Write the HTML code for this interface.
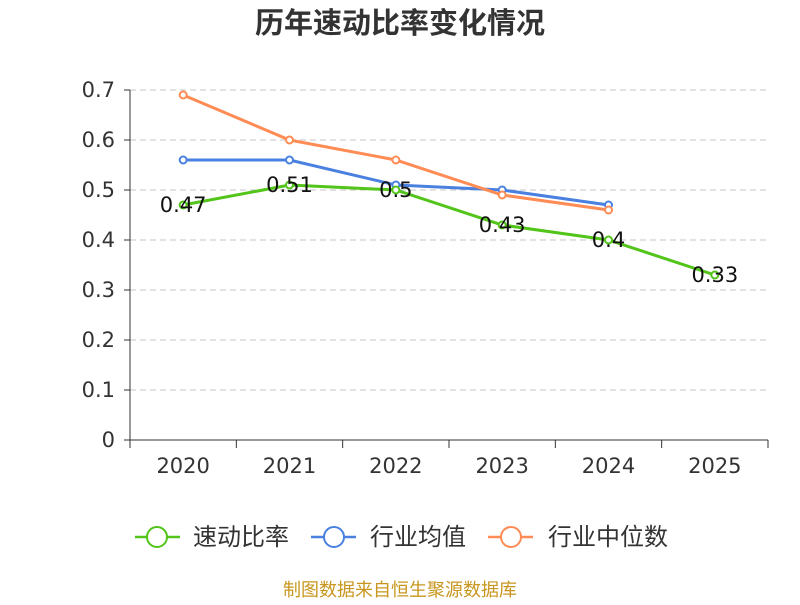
<!DOCTYPE html>
<html><head><meta charset="utf-8"><style>
body{margin:0;background:#fff;}
svg text{font-family:"DejaVu Sans","Noto Sans CJK SC",sans-serif;}
</style></head><body>
<svg width="800" height="600" xmlns="http://www.w3.org/2000/svg">
<text x="400" y="33" text-anchor="middle" font-size="29" font-weight="bold" fill="#333">历年速动比率变化情况</text>
<g id="grid"></g><g id="axes"></g><g id="series"></g><g id="labels"></g>
<g>
 <g>
  <line x1="135" y1="537" x2="180" y2="537" stroke="#52c41a" stroke-width="2.5"/><circle cx="157" cy="537" r="10" fill="#fff" stroke="#52c41a" stroke-width="2"/>
  <text x="193" y="545" font-size="24" fill="#333">速动比率</text></g>
 <g>
  <line x1="311" y1="537" x2="356" y2="537" stroke="#4a80e0" stroke-width="2.5"/><circle cx="334" cy="537" r="10" fill="#fff" stroke="#4a80e0" stroke-width="2"/>
  <text x="370" y="545" font-size="24" fill="#333">行业均值</text></g>
 <g>
  <line x1="488" y1="537" x2="533" y2="537" stroke="#ff8c55" stroke-width="2.5"/><circle cx="511" cy="537" r="10" fill="#fff" stroke="#ff8c55" stroke-width="2"/>
  <text x="548" y="545" font-size="24" fill="#333">行业中位数</text></g>
</g>
<text x="400" y="596" text-anchor="middle" font-size="18" fill="#c8961e">制图数据来自恒生聚源数据库</text>
</svg>
<script>
const categories=["2020","2021","2022","2023","2024","2025"];
const quickRatio=[0.47,0.51,0.50,0.43,0.40,0.33];
const industryAvg=[0.56,0.56,0.51,0.50,0.47];
const industryMedian=[0.69,0.60,0.56,0.49,0.46];
const yTicks=[0,0.1,0.2,0.3,0.4,0.5,0.6,0.7];
const yTickLabels=["0","0.1","0.2","0.3","0.4","0.5","0.6","0.7"];

const NS="http://www.w3.org/2000/svg";
const x0=130,x1=768,y0=440,yTop=90,yMax=0.7;
const bw=(x1-x0)/categories.length;
const xS=i=>x0+bw*(i+0.5);
const yS=v=>y0-(v/yMax)*(y0-yTop);
function mk(tag,attrs,parent,txt){const e=document.createElementNS(NS,tag);for(const k in attrs)e.setAttribute(k,attrs[k]);if(txt!==undefined)e.textContent=txt;document.getElementById(parent).appendChild(e);return e;}

yTicks.forEach((t,i)=>{
 const y=yS(t);
 if(t>0){const g=mk('line',{x1:x0,x2:x1,y1:y,y2:y,stroke:'#c4c4c4','stroke-dasharray':'6,4'},'grid');
 
 }
 const tk=mk('line',{x1:x0-6,x2:x0,y1:y,y2:y,stroke:'#333'},'axes');
 
 
 const l=mk('text',{x:x0-15,y:y+7,'text-anchor':'end','font-size':21,fill:'#333'},'axes',yTickLabels[i]);
 
 
});
const ya=mk('line',{x1:x0,x2:x0,y1:yTop,y2:y0,stroke:'#333'},'axes');


const xa=mk('line',{x1:x0,x2:x1,y1:y0,y2:y0,stroke:'#333'},'axes');


for(let i=0;i<=categories.length;i++){
 const t=mk('line',{x1:x0+bw*i,x2:x0+bw*i,y1:y0,y2:y0+8,stroke:'#333'},'axes');
 
 
}
categories.forEach((c,i)=>{
 const l=mk('text',{x:xS(i),y:y0+33,'text-anchor':'middle','font-size':21,fill:'#333'},'axes',c);
 
 
});
function series(data,color,name,markers){
 const pts=data.map((v,i)=>xS(i)+','+yS(v)).join(' ');
 const p=mk('polyline',{points:pts,fill:'none',stroke:color,'stroke-width':3},'series');
 
 
 if(markers)data.forEach((v,i)=>{
  const c=mk('circle',{cx:xS(i),cy:yS(v),r:3.5,fill:'#fff',stroke:color,'stroke-width':2},'series');
  
  
 });
}
series(industryAvg,'#4a80e0','industry-average',true);
series(industryMedian,'#ff8c55','industry-median',true);
series(quickRatio,'#52c41a','quick-ratio',true);
quickRatio.forEach((v,i)=>{
 const l=mk('text',{x:xS(i),y:yS(v)+7,'text-anchor':'middle','font-size':21,fill:'#111'},'labels',String(v));
 
 
});
</script>
</body></html>
